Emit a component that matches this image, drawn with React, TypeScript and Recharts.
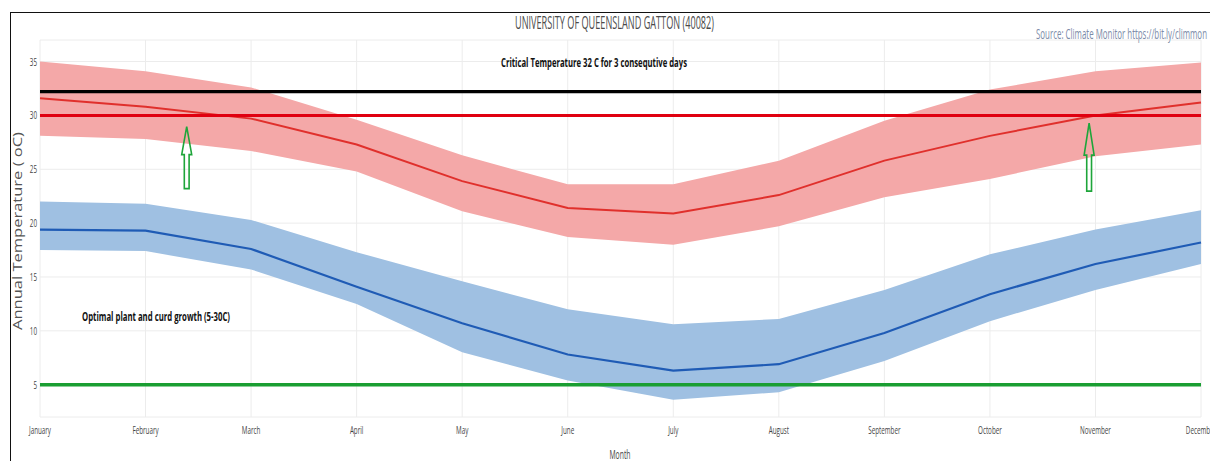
import React from 'react';
import { ComposedChart, Area, Line, XAxis, YAxis, CartesianGrid, ReferenceLine, ReferenceDot } from 'recharts';

const months = ['January', 'February', 'March', 'April', 'May', 'June', 'July', 'August', 'September', 'October', 'November', 'December'];
const maxMean = [31.6, 30.8, 29.7, 27.3, 23.9, 21.4, 20.9, 22.6, 25.8, 28.1, 30.0, 31.2];
const maxHigh = [35.0, 34.1, 32.6, 29.6, 26.3, 23.6, 23.6, 25.8, 29.5, 32.4, 34.1, 34.9];
const maxLow = [28.1, 27.8, 26.7, 24.8, 21.1, 18.7, 18.0, 19.7, 22.4, 24.1, 26.2, 27.3];
const minMean = [19.4, 19.3, 17.6, 14.1, 10.7, 7.8, 6.3, 6.9, 9.8, 13.4, 16.2, 18.2];
const minHigh = [22.0, 21.8, 20.3, 17.3, 14.6, 12.0, 10.6, 11.1, 13.8, 17.1, 19.4, 21.2];
const minLow = [17.5, 17.4, 15.7, 12.5, 8.0, 5.4, 3.6, 4.3, 7.2, 10.9, 13.8, 16.2];
const yTicks = [5, 10, 15, 20, 25, 30, 35];
const criticalTemp = 32.2;
const upperOptimal = 30;
const lowerOptimal = 5;
const arrows = [
  { x: 1.39, y: 28.96, len: 62, head: 28 },
  { x: 9.94, y: 29.28, len: 68, head: 32 },
];

const data = months.map((m, i) => ({
  idx: i,
  month: m,
  maxMean: maxMean[i],
  maxBand: [maxLow[i], maxHigh[i]],
  minMean: minMean[i],
  minBand: [minLow[i], minHigh[i]],
}));

const FONT = '"Open Sans", "Liberation Sans", sans-serif';
const SX = 0.57;

const XTick = (props: any) => {
  const { x, y, payload } = props;
  return (
    <text transform={`translate(${x},${y + 17}) scale(${SX},1)`} textAnchor="middle" fill="#444" fontSize={11} fontFamily={FONT}>
      {months[payload.value]}
    </text>
  );
};

const YTick = (props: any) => {
  const { x, y, payload } = props;
  return (
    <text transform={`translate(${x},${y + 4}) scale(${SX},1)`} textAnchor="end" fill="#444" fontSize={11} fontFamily={FONT}>
      {payload.value}
    </text>
  );
};

const Arrow = (len: number, head: number) => (props: any) => {
  const { cx, cy } = props;
  if (cx == null || cy == null) return null;
  const hw = 5;
  const sw = 2.4;
  const d = `M${cx},${cy} L${cx - hw},${cy + head} L${cx - sw},${cy + head} L${cx - sw},${cy + len} L${cx + sw},${cy + len} L${cx + sw},${cy + head} L${cx + hw},${cy + head} Z`;
  return <path d={d} fill="none" stroke="#1ea53a" strokeWidth={1.6} strokeLinejoin="miter" />;
};

export default function App() {
  return (
    <div style={{ position: 'absolute', left: 0, top: 0, width: 1210, height: 461, background: '#fff', overflow: 'hidden' }}>
      <div style={{ position: 'absolute', left: 10, top: 12, width: 1200, height: 449, borderTop: '1.5px solid #111', borderLeft: '1.5px solid #111' }} />
      <ComposedChart
        width={1210}
        height={461}
        data={data}
        margin={{ top: 40, right: 9, bottom: 14, left: 8 }}
        style={{ position: 'absolute', left: 0, top: 0 }}
      >
        <CartesianGrid stroke="#ececec" strokeWidth={1} />
        <XAxis
          dataKey="idx"
          type="number"
          domain={[0, 11]}
          ticks={months.map((_, i) => i)}
          axisLine={false}
          tickLine={false}
          tickSize={0}
          tickMargin={0}
          height={30}
          tick={<XTick />}
          interval={0}
        />
        <YAxis
          type="number"
          domain={[2, 37]}
          ticks={yTicks}
          axisLine={false}
          tickLine={false}
          tickSize={0}
          tickMargin={3}
          width={32}
          tick={<YTick />}
          interval={0}
        />
        <Area dataKey="maxBand" type="linear" stroke="none" fill="#f4a8a8" fillOpacity={1} isAnimationActive={false} />
        <Area dataKey="minBand" type="linear" stroke="none" fill="#9fc0e2" fillOpacity={1} isAnimationActive={false} />
        <Line dataKey="maxMean" type="linear" stroke="#e0302c" strokeWidth={2} dot={false} isAnimationActive={false} />
        <Line dataKey="minMean" type="linear" stroke="#1f5bb5" strokeWidth={2.2} dot={false} isAnimationActive={false} />
        <ReferenceLine y={criticalTemp} stroke="#000" strokeWidth={3.2} ifOverflow="extendDomain" />
        <ReferenceLine y={upperOptimal} stroke="#e00010" strokeWidth={3} />
        <ReferenceLine y={lowerOptimal} stroke="#1a9e32" strokeWidth={3.5} />
        {arrows.map((a, i) => (
          <ReferenceDot key={i} x={a.x} y={a.y} r={0} shape={Arrow(a.len, a.head)} ifOverflow="visible" />
        ))}
      </ComposedChart>
      <svg width={1210} height={461} style={{ position: 'absolute', left: 0, top: 0, pointerEvents: 'none' }}>
        <text x={515} y={29} fill="#4a4a4a" fontSize={18} fontFamily={FONT} textLength={199} lengthAdjust="spacingAndGlyphs">
          UNIVERSITY OF QUEENSLAND GATTON (40082)
        </text>
        <text x={1036} y={39} fill="#7b8ba8" fontSize={14} fontFamily={FONT} textLength={171} lengthAdjust="spacingAndGlyphs">
          Source: Climate Monitor https://bit.ly/climmon
        </text>
        <text x={501} y={67} fill="#111" fontSize={12.5} fontWeight="bold" fontFamily={FONT} textLength={186} lengthAdjust="spacingAndGlyphs">
          Critical Temperature 32 C for 3 consequtive days
        </text>
        <text x={82} y={321} fill="#111" fontSize={13} fontWeight="bold" fontFamily={FONT} textLength={148} lengthAdjust="spacingAndGlyphs">
          Optimal plant and curd growth (5-30C)
        </text>
        <text x={0} y={0} transform="translate(22,330) rotate(-90)" fill="#555" fontSize={12.5} fontFamily={FONT} textLength={198} lengthAdjust="spacingAndGlyphs">
          Annual Temperature ( oC)
        </text>
        <text transform={`translate(620,459) scale(${SX},1)`} textAnchor="middle" fill="#444" fontSize={12} fontFamily={FONT}>
          Month
        </text>
      </svg>
    </div>
  );
}
